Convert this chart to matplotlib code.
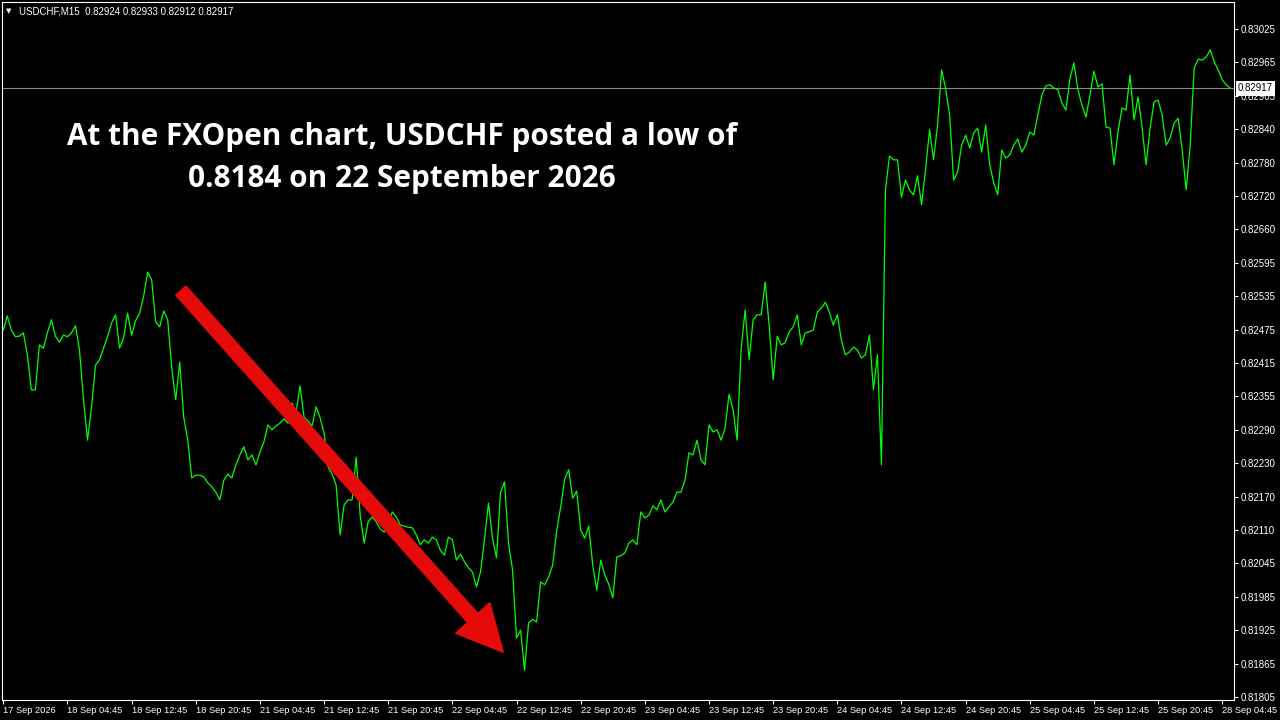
import numpy as np
import matplotlib
matplotlib.use("Agg")
import matplotlib.pyplot as plt
from matplotlib.patches import FancyArrow
from matplotlib.transforms import IdentityTransform, blended_transform_factory

# --- data ------------------------------------------------------------------
SYMBOL = "USDCHF,M15"
OHLC = ["0.82924", "0.82933", "0.82912", "0.82917"]
LAST_PRICE = 0.82917
LAST_LABEL = "0.82917"

BAR_STEP = 2   # one reading every 2nd M15 bar (30 min)
CLOSE = [
    0.82475, 0.82501, 0.82475, 0.82463, 0.82464, 0.82470, 0.82430, 0.82366, 0.82366, 0.82448,
    0.82442, 0.82470, 0.82494, 0.82464, 0.82453, 0.82466, 0.82463, 0.82470, 0.82483, 0.82439,
    0.82348, 0.82274, 0.82335, 0.82411, 0.82421, 0.82442, 0.82463, 0.82488, 0.82503, 0.82442,
    0.82461, 0.82506, 0.82466, 0.82492, 0.82506, 0.82537, 0.82581, 0.82567, 0.82490, 0.82481,
    0.82510, 0.82494, 0.82406, 0.82348, 0.82417, 0.82316, 0.82274, 0.82205, 0.82210, 0.82210,
    0.82207, 0.82196, 0.82189, 0.82179, 0.82165, 0.82201, 0.82212, 0.82205, 0.82229, 0.82247,
    0.82262, 0.82238, 0.82247, 0.82229, 0.82252, 0.82271, 0.82302, 0.82293, 0.82300, 0.82305,
    0.82313, 0.82305, 0.82342, 0.82324, 0.82373, 0.82316, 0.82309, 0.82300, 0.82335, 0.82315,
    0.82287, 0.82225, 0.82212, 0.82192, 0.82101, 0.82156, 0.82165, 0.82165, 0.82243, 0.82137,
    0.82086, 0.82125, 0.82134, 0.82125, 0.82112, 0.82106, 0.82117, 0.82143, 0.82134, 0.82119,
    0.82117, 0.82115, 0.82114, 0.82101, 0.82083, 0.82092, 0.82086, 0.82097, 0.82092, 0.82073,
    0.82064, 0.82097, 0.82092, 0.82055, 0.82066, 0.82052, 0.82041, 0.82033, 0.82006, 0.82033,
    0.82092, 0.82159, 0.82095, 0.82059, 0.82178, 0.82198, 0.82086, 0.82037, 0.81913, 0.81927,
    0.81854, 0.81940, 0.81947, 0.81942, 0.82015, 0.82010, 0.82024, 0.82046, 0.82108, 0.82152,
    0.82203, 0.82220, 0.82168, 0.82181, 0.82110, 0.82095, 0.82117, 0.82046, 0.82000, 0.82055,
    0.82028, 0.82011, 0.81986, 0.82061, 0.82063, 0.82068, 0.82086, 0.82092, 0.82083, 0.82143,
    0.82132, 0.82137, 0.82154, 0.82147, 0.82165, 0.82143, 0.82152, 0.82161, 0.82179, 0.82179,
    0.82201, 0.82251, 0.82247, 0.82274, 0.82238, 0.82229, 0.82302, 0.82289, 0.82293, 0.82274,
    0.82296, 0.82358, 0.82329, 0.82274, 0.82439, 0.82512, 0.82421, 0.82494, 0.82503, 0.82503,
    0.82563, 0.82484, 0.82384, 0.82464, 0.82448, 0.82452, 0.82472, 0.82481, 0.82503, 0.82448,
    0.82470, 0.82472, 0.82475, 0.82508, 0.82515, 0.82526, 0.82508, 0.82484, 0.82503, 0.82457,
    0.82430, 0.82435, 0.82444, 0.82439, 0.82424, 0.82430, 0.82466, 0.82366, 0.82430, 0.82229,
    0.82731, 0.82793, 0.82786, 0.82786, 0.82718, 0.82749, 0.82731, 0.82722, 0.82757, 0.82704,
    0.82768, 0.82841, 0.82786, 0.82850, 0.82950, 0.82917, 0.82868, 0.82749, 0.82764, 0.82813,
    0.82831, 0.82808, 0.82835, 0.82844, 0.82800, 0.82850, 0.82777, 0.82744, 0.82722, 0.82804,
    0.82789, 0.82795, 0.82813, 0.82824, 0.82800, 0.82813, 0.82837, 0.82831, 0.82868, 0.82904,
    0.82921, 0.82923, 0.82917, 0.82914, 0.82890, 0.82877, 0.82934, 0.82963, 0.82914, 0.82886,
    0.82864, 0.82904, 0.82948, 0.82919, 0.82925, 0.82846, 0.82844, 0.82777, 0.82837, 0.82881,
    0.82877, 0.82941, 0.82859, 0.82901, 0.82846, 0.82777, 0.82844, 0.82892, 0.82895, 0.82868,
    0.82813, 0.82826, 0.82853, 0.82862, 0.82804, 0.82731, 0.82813, 0.82954, 0.82970, 0.82968,
    0.82974, 0.82987, 0.82965, 0.82950, 0.82932, 0.82923, 0.82917,
]

X_LABEL_EVERY = 32   # bars between time labels (8 h of M15)
X_LABELS = ["17 Sep 2026", "18 Sep 04:45", "18 Sep 12:45", "18 Sep 20:45",
            "21 Sep 04:45", "21 Sep 12:45", "21 Sep 20:45", "22 Sep 04:45",
            "22 Sep 12:45", "22 Sep 20:45", "23 Sep 04:45", "23 Sep 12:45",
            "23 Sep 20:45", "24 Sep 04:45", "24 Sep 12:45", "24 Sep 20:45",
            "25 Sep 04:45", "25 Sep 12:45", "25 Sep 20:45", "28 Sep 04:45"]
Y_LABELS = ["0.81805", "0.81865", "0.81925", "0.81985", "0.82045", "0.82110",
            "0.82170", "0.82230", "0.82290", "0.82355", "0.82415", "0.82475",
            "0.82535", "0.82595", "0.82660", "0.82720", "0.82780", "0.82840",
            "0.82905", "0.82965", "0.83025"]

TITLE_1 = "At the FXOpen chart, USDCHF posted a low of"
TITLE_2 = "0.8184 on 22 September 2026"

# --- style ------------------------------------------------------------------
W, H = 1280, 720
BG = "black"
FG = "white"
LINE = "#00ff00"
RED = "#e60b0b"
TICK_FONT = "Liberation Sans"
TICK_SIZE = 7

fig = plt.figure(figsize=(W / 100, H / 100), dpi=100, facecolor=BG)
ax = fig.add_axes([2 / W, 20 / H, 1232 / W, 698 / H], facecolor=BG)

x = np.arange(len(CLOSE)) * BAR_STEP
ax.plot(x, CLOSE, color=LINE, lw=0.9, zorder=3)
ax.axhline(LAST_PRICE, color="#8c8c8c", lw=0.8, zorder=2)

ax.set_xlim(-0.65, 613.85)
ax.set_ylim(0.817995, 0.830743)

ax.set_xticks(np.arange(len(X_LABELS)) * X_LABEL_EVERY)
ax.set_xticklabels(X_LABELS)
yt = np.linspace(float(Y_LABELS[0]), float(Y_LABELS[-1]), len(Y_LABELS))
ax.set_yticks(yt)
ax.set_yticklabels(Y_LABELS)
ax.yaxis.tick_right()

for s in ax.spines.values():
    s.set_color(FG)
    s.set_linewidth(0.8)
ax.tick_params(axis="both", colors=FG, length=3, width=0.8, direction="out",
               labelsize=TICK_SIZE, labelcolor=FG)
ax.tick_params(axis="x", pad=1.5, labelsize=6.7)
ax.tick_params(axis="y", pad=1.5)
for lab in ax.get_xticklabels():
    lab.set_ha("left")
    lab.set_family(TICK_FONT)
for lab in ax.get_yticklabels():
    lab.set_family(TICK_FONT)

# current price box on the price scale
tr = blended_transform_factory(ax.transAxes, ax.transData)
ax.text(1.0 + 4 / 1232, LAST_PRICE, LAST_LABEL, transform=tr, ha="left", va="center",
        fontsize=TICK_SIZE, family=TICK_FONT, color="black", zorder=10, clip_on=False,
        bbox=dict(boxstyle="square,pad=0.25", fc="white", ec="none"))

# header
ax.text(4 / 1232, 1 - 9 / 698, "\u25bc", transform=ax.transAxes, fontsize=5,
        color=FG, ha="left", va="center", family="DejaVu Sans")
ax.text(17 / 1232, 1 - 9 / 698, f"{SYMBOL}  {' '.join(OHLC)}", transform=ax.transAxes,
        fontsize=TICK_SIZE, color=FG, ha="left", va="center", family=TICK_FONT)

# headline
fig.text(402 / W, 1 - 145 / H, TITLE_1, ha="center", va="baseline", color=FG,
         fontsize=21.4, fontweight="bold", family="Open Sans")
fig.text(402 / W, 1 - 187 / H, TITLE_2, ha="center", va="baseline", color=FG,
         fontsize=21.4, fontweight="bold", family="Open Sans")

# red arrow (pixel coordinates of the picture, y measured from the top)
tail = np.array([180.8, 290.5])
tip = np.array([503.3, 652.3])
d = tip - tail
arrow = FancyArrow(tail[0], H - tail[1], d[0], -d[1], width=13.7, head_width=46,
                   head_length=46, length_includes_head=True, color=RED,
                   transform=IdentityTransform(), zorder=20)
fig.add_artist(arrow)

fig.savefig("out.png", dpi=100, facecolor=BG)
